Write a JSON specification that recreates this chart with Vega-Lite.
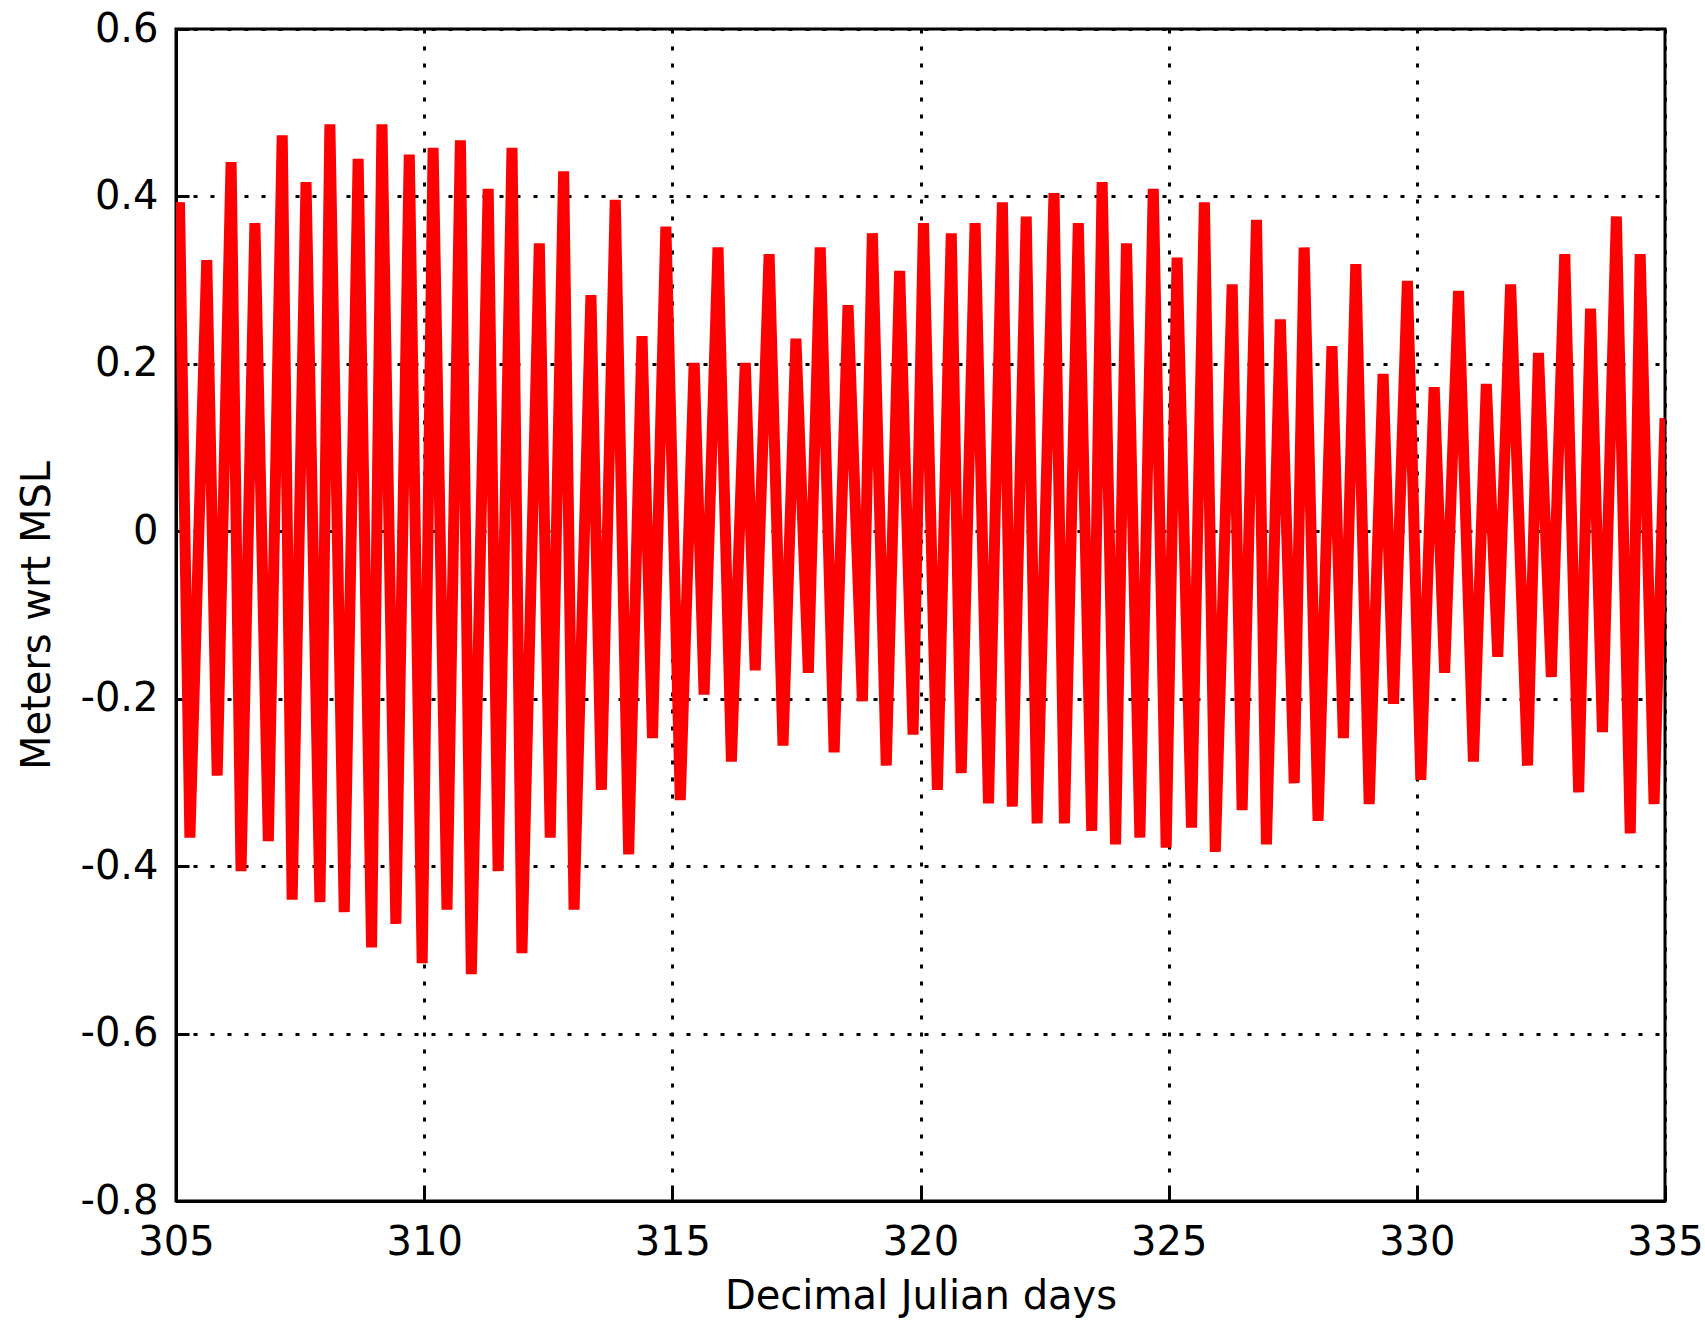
{
  "$schema": "https://vega.github.io/schema/vega-lite/v6.json",
  "width": 1489,
  "height": 1172,
  "autosize": {"type": "none"},
  "padding": {"left": 176, "top": 29, "right": 40, "bottom": 122},
  "background": "white",
  "config": {
    "view": {"stroke": "black", "strokeWidth": 3},
    "font": "DejaVu Sans"
  },
  "data": {
    "values": [
      {"day": 305.00, "level": 0.30},
      {"day": 305.07, "level": 0.393},
      {"day": 305.28, "level": -0.366},
      {"day": 305.62, "level": 0.324},
      {"day": 305.83, "level": -0.292},
      {"day": 306.11, "level": 0.441},
      {"day": 306.31, "level": -0.406},
      {"day": 306.59, "level": 0.368},
      {"day": 306.86, "level": -0.370},
      {"day": 307.14, "level": 0.473},
      {"day": 307.34, "level": -0.44},
      {"day": 307.62, "level": 0.417},
      {"day": 307.90, "level": -0.443},
      {"day": 308.10, "level": 0.486},
      {"day": 308.39, "level": -0.455},
      {"day": 308.67, "level": 0.445},
      {"day": 308.94, "level": -0.497},
      {"day": 309.15, "level": 0.486},
      {"day": 309.43, "level": -0.469},
      {"day": 309.70, "level": 0.45},
      {"day": 309.96, "level": -0.516},
      {"day": 310.18, "level": 0.458},
      {"day": 310.46, "level": -0.452},
      {"day": 310.73, "level": 0.467},
      {"day": 310.95, "level": -0.529},
      {"day": 311.29, "level": 0.409},
      {"day": 311.49, "level": -0.406},
      {"day": 311.77, "level": 0.458},
      {"day": 311.97, "level": -0.504},
      {"day": 312.32, "level": 0.344},
      {"day": 312.54, "level": -0.366},
      {"day": 312.81, "level": 0.43},
      {"day": 313.02, "level": -0.452},
      {"day": 313.36, "level": 0.282},
      {"day": 313.57, "level": -0.309},
      {"day": 313.85, "level": 0.396},
      {"day": 314.12, "level": -0.386},
      {"day": 314.39, "level": 0.233},
      {"day": 314.60, "level": -0.247},
      {"day": 314.87, "level": 0.364},
      {"day": 315.16, "level": -0.321},
      {"day": 315.44, "level": 0.201},
      {"day": 315.64, "level": -0.195},
      {"day": 315.92, "level": 0.339},
      {"day": 316.19, "level": -0.275},
      {"day": 316.47, "level": 0.201},
      {"day": 316.67, "level": -0.166},
      {"day": 316.95, "level": 0.331},
      {"day": 317.23, "level": -0.256},
      {"day": 317.49, "level": 0.23},
      {"day": 317.74, "level": -0.169},
      {"day": 317.98, "level": 0.339},
      {"day": 318.26, "level": -0.264},
      {"day": 318.54, "level": 0.27},
      {"day": 318.83, "level": -0.203},
      {"day": 319.03, "level": 0.356},
      {"day": 319.31, "level": -0.28},
      {"day": 319.58, "level": 0.311},
      {"day": 319.85, "level": -0.243},
      {"day": 320.06, "level": 0.368},
      {"day": 320.34, "level": -0.309},
      {"day": 320.62, "level": 0.356},
      {"day": 320.82, "level": -0.289},
      {"day": 321.10, "level": 0.368},
      {"day": 321.37, "level": -0.325},
      {"day": 321.65, "level": 0.393},
      {"day": 321.85, "level": -0.329},
      {"day": 322.13, "level": 0.376},
      {"day": 322.35, "level": -0.349},
      {"day": 322.69, "level": 0.404},
      {"day": 322.90, "level": -0.349},
      {"day": 323.18, "level": 0.368},
      {"day": 323.45, "level": -0.358},
      {"day": 323.66, "level": 0.417},
      {"day": 323.93, "level": -0.374},
      {"day": 324.15, "level": 0.344},
      {"day": 324.42, "level": -0.366},
      {"day": 324.69, "level": 0.409},
      {"day": 324.95, "level": -0.378},
      {"day": 325.17, "level": 0.327},
      {"day": 325.46, "level": -0.354},
      {"day": 325.72, "level": 0.393},
      {"day": 325.94, "level": -0.383},
      {"day": 326.28, "level": 0.295},
      {"day": 326.48, "level": -0.333},
      {"day": 326.77, "level": 0.372},
      {"day": 326.97, "level": -0.374},
      {"day": 327.25, "level": 0.253},
      {"day": 327.53, "level": -0.301},
      {"day": 327.73, "level": 0.339},
      {"day": 328.01, "level": -0.346},
      {"day": 328.29, "level": 0.221},
      {"day": 328.52, "level": -0.247},
      {"day": 328.77, "level": 0.319},
      {"day": 329.04, "level": -0.326},
      {"day": 329.32, "level": 0.188},
      {"day": 329.53, "level": -0.206},
      {"day": 329.81, "level": 0.299},
      {"day": 330.08, "level": -0.297},
      {"day": 330.35, "level": 0.172},
      {"day": 330.56, "level": -0.169},
      {"day": 330.84, "level": 0.287},
      {"day": 331.14, "level": -0.275},
      {"day": 331.40, "level": 0.176},
      {"day": 331.63, "level": -0.15},
      {"day": 331.89, "level": 0.295},
      {"day": 332.23, "level": -0.28},
      {"day": 332.45, "level": 0.213},
      {"day": 332.71, "level": -0.174},
      {"day": 332.98, "level": 0.331},
      {"day": 333.26, "level": -0.312},
      {"day": 333.50, "level": 0.266},
      {"day": 333.74, "level": -0.24},
      {"day": 334.02, "level": 0.376},
      {"day": 334.30, "level": -0.361},
      {"day": 334.50, "level": 0.331},
      {"day": 334.78, "level": -0.326},
      {"day": 335.00, "level": 0.135}
    ]
  },
  "mark": {"type": "line", "color": "#ff0000", "strokeWidth": 11, "strokeJoin": "bevel", "clip": true},
  "encoding": {
    "x": {
      "field": "day",
      "type": "quantitative",
      "scale": {"domain": [305, 335], "nice": false, "zero": false},
      "axis": {
        "title": "Decimal Julian days",
        "values": [305, 310, 315, 320, 325, 330, 335],
        "labelFlush": false,
        "labelOverlap": false,
        "labelBound": false,
        "grid": true,
        "gridColor": "black",
        "gridWidth": 3,
        "gridDash": [4, 13],
        "gridOpacity": 1,
        "domainColor": "black",
        "domainWidth": 3,
        "tickColor": "black",
        "tickWidth": 3,
        "tickSize": -13,
        "labelPadding": 34,
        "labelFontSize": 40,
        "labelColor": "black",
        "labelFont": "DejaVu Sans",
        "titleFont": "DejaVu Sans",
        "titleFontSize": 40,
        "titleFontWeight": "normal",
        "titleColor": "black",
        "titlePadding": 14
      }
    },
    "y": {
      "field": "level",
      "type": "quantitative",
      "scale": {"domain": [-0.8, 0.6], "nice": false, "zero": false},
      "axis": {
        "title": "Meters wrt MSL",
        "values": [-0.8, -0.6, -0.4, -0.2, 0, 0.2, 0.4, 0.6],
        "labelExpr": "toString(datum.value)",
        "labelFlush": false,
        "labelOverlap": false,
        "labelBound": false,
        "grid": true,
        "gridColor": "black",
        "gridWidth": 3,
        "gridDash": [4, 13],
        "gridOpacity": 1,
        "domainColor": "black",
        "domainWidth": 3,
        "tickColor": "black",
        "tickWidth": 3,
        "tickSize": -13,
        "labelPadding": 31,
        "labelFontSize": 40,
        "labelColor": "black",
        "labelFont": "DejaVu Sans",
        "titleFont": "DejaVu Sans",
        "titleFontSize": 40,
        "titleFontWeight": "normal",
        "titleColor": "black",
        "titlePadding": 22
      }
    }
  }
}
